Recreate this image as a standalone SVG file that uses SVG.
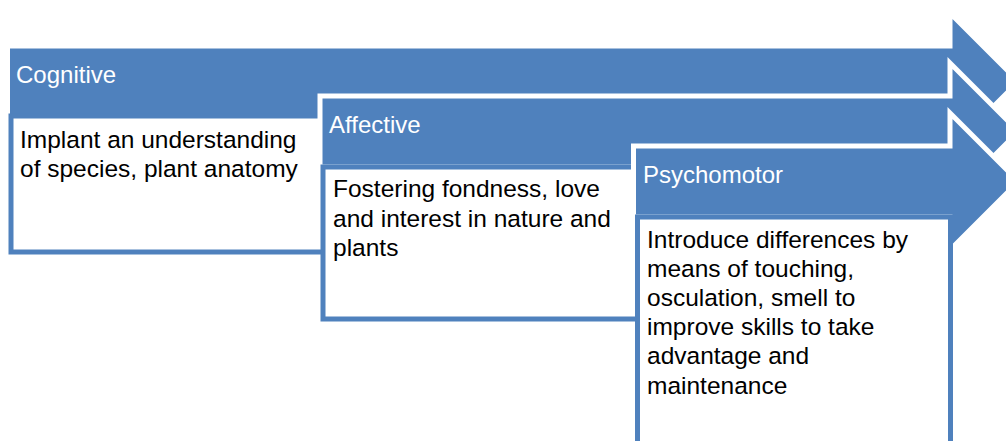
<svg xmlns="http://www.w3.org/2000/svg" width="1006" height="441" viewBox="0 0 1006 441">
  <style>
    .arrow { fill: #4F81BD; stroke: #FFFFFF; stroke-width: 5; }
    .box { fill: #FFFFFF; stroke: #4F81BD; stroke-width: 5; }
    .head { font-family: "Liberation Sans", Arial, sans-serif; font-size: 24px; fill: #FFFFFF; }
    .body { font-family: "Liberation Sans", Arial, sans-serif; font-size: 24.5px; fill: #000000; }
  </style>
  <rect width="1006" height="441" fill="#FFFFFF"/>

  <!-- Stage 1: Cognitive -->
  <g id="node-cognitive">
    <path class="arrow" d="M7.5,46 H950 V13 L1018.5,81.5 L950,150 V117 H7.5 Z"/>
    <text class="head" x="16" y="83">Cognitive</text>
    <rect class="box" x="11" y="116" width="330" height="136"/>
    <text class="body" x="20" y="148">Implant an understanding</text>
    <text class="body" x="20" y="177">of species, plant anatomy</text>
  </g>

  <!-- Stage 2: Affective -->
  <g id="node-affective">
    <path class="arrow" d="M320,96 H950 V63 L1018.5,131.5 L950,200 V167 H320 Z"/>
    <text class="head" x="329" y="133">Affective</text>
    <rect class="box" x="323" y="167" width="330" height="152"/>
    <text class="body" x="333" y="197">Fostering fondness, love</text>
    <text class="body" x="333" y="226.5">and interest in nature and</text>
    <text class="body" x="333" y="256">plants</text>
  </g>

  <!-- Stage 3: Psychomotor -->
  <g id="node-psychomotor">
    <path class="arrow" d="M633.5,146 H950 V113 L1018.5,181.5 L950,250 V217 H633.5 Z"/>
    <text class="head" x="643" y="183">Psychomotor</text>
    <rect class="box" x="637.5" y="217" width="313" height="240"/>
    <text class="body" x="647" y="247.5">Introduce differences by</text>
    <text class="body" x="647" y="276.7">means of touching,</text>
    <text class="body" x="647" y="305.9">osculation, smell to</text>
    <text class="body" x="647" y="335.1">improve skills to take</text>
    <text class="body" x="647" y="364.3">advantage and</text>
    <text class="body" x="647" y="393.5">maintenance</text>
  </g>
</svg>
